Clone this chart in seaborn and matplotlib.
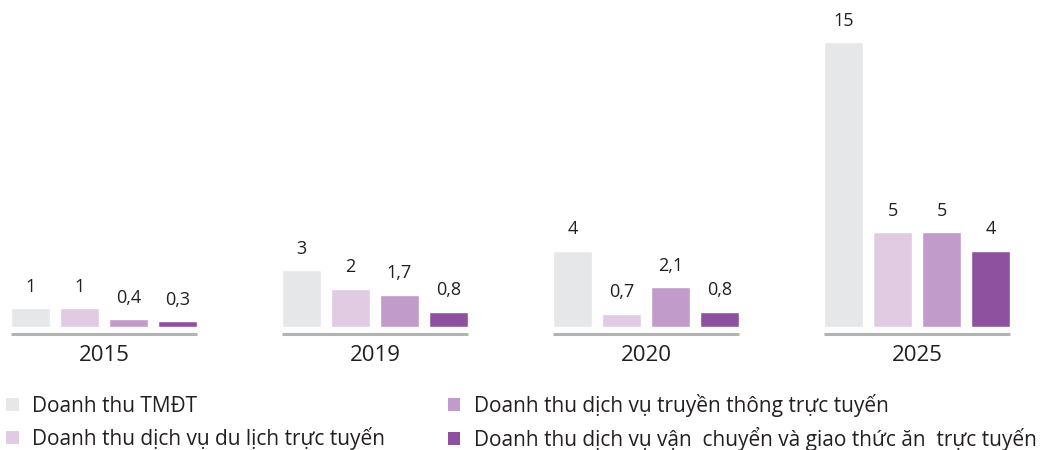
import seaborn as sns
import matplotlib.pyplot as plt
import pandas as pd
from matplotlib.patches import Patch

# data
years = ['2015', '2019', '2020', '2025']
tmdt = [1, 3, 4, 15]
du_lich = [1, 2, 0.7, 5]
truyen_thong = [0.4, 1.7, 2.1, 5]
van_chuyen = [0.3, 0.8, 0.8, 4]
series_names = ['Doanh thu TMĐT',
                'Doanh thu dịch vụ du lịch trực tuyến',
                'Doanh thu dịch vụ truyền thông trực tuyến',
                'Doanh thu dịch vụ vận  chuyển và giao thức ăn  trực tuyến']
colors = ['#e6e7e8', '#e0cbe3', '#c19bc9', '#8d51a0']

rows = []
for name, vals in zip(series_names, [tmdt, du_lich, truyen_thong, van_chuyen]):
    for y, v in zip(years, vals):
        rows.append({'year': y, 'value': v, 'series': name})
df = pd.DataFrame(rows)

sns.set_style('white')
plt.rcParams['font.family'] = ['Open Sans', 'DejaVu Sans']
plt.rcParams['text.color'] = '#231f20'

fig = plt.figure(figsize=(10.49, 4.5), dpi=100)
ax = fig.add_axes([0, (450 - 327) / 450, 1, 327 / 450])

sns.barplot(data=df, x='year', y='value', hue='series', order=years,
            hue_order=series_names, palette=colors, width=0.723, gap=0.2,
            saturation=1, legend=False, ax=ax)

for cont in ax.containers:
    labels = [('%g' % b.get_height()).replace('.', ',') for b in cont]
    ax.bar_label(cont, labels=labels, padding=9, fontsize=13, color='#231f20')

ax.set_xlim(-104 / 271, (1049 - 104) / 271)
ax.set_ylim(0, 327 / 19)

# grey baseline under each group plus the year label
for i, y in enumerate(years):
    ax.plot([i - 0.345, i + 0.345], [-0.37, -0.37], color='#b3b3b3', lw=2.2,
            clip_on=False, solid_capstyle='butt')
    ax.text(i, -1.5, y, ha='center', va='center', fontsize=16, color='#231f20')

ax.axis('off')

handles = [Patch(facecolor=c, edgecolor='none') for c in colors]
fig.legend(handles, series_names, loc='lower left', bbox_to_anchor=(-0.006, -0.03),
           ncol=2, frameon=False, fontsize=15, handlelength=0.6, handleheight=0.6,
           handletextpad=0.65, columnspacing=3.0, labelspacing=0.5, borderaxespad=0.2)

fig.savefig('out.png', dpi=100)
